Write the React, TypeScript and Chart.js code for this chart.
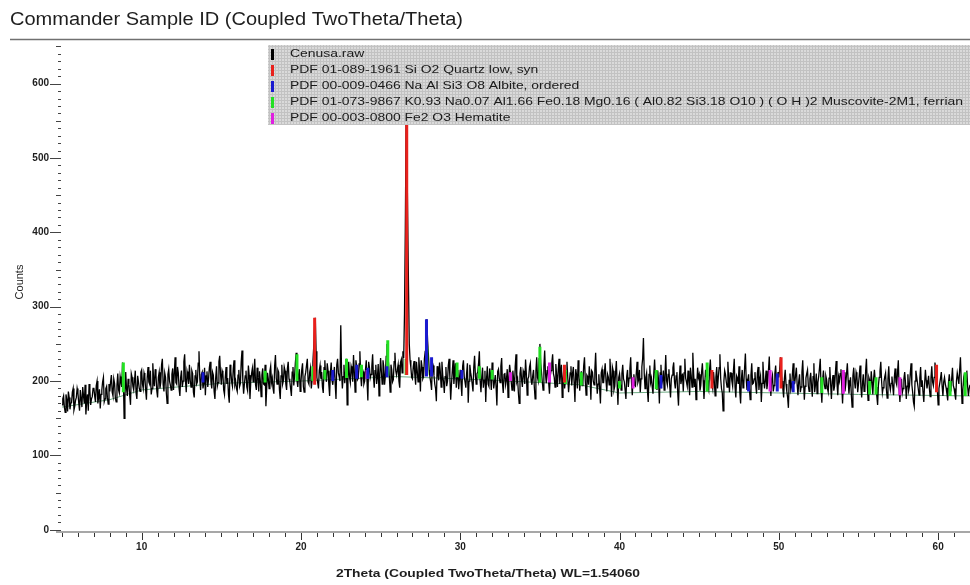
import React, { useEffect, useRef } from "react";
import { Chart, registerables } from "chart.js";

Chart.register(...registerables);

const TITLE = "Commander Sample ID (Coupled TwoTheta/Theta)";
const X_TITLE = "2Theta (Coupled TwoTheta/Theta) WL=1.54060";
const Y_TITLE = "Counts";
const X_TICKS = [10, 20, 30, 40, 50, 60];
const Y_TICKS = [0, 100, 200, 300, 400, 500, 600];

const SERIES_LABELS = [
  "Cenusa.raw",
  "PDF 01-089-1961 Si O2 Quartz low, syn",
  "PDF 00-009-0466 Na Al Si3 O8 Albite, ordered",
  "PDF 01-073-9867 K0.93 Na0.07 Al1.66 Fe0.18 Mg0.16 ( Al0.82 Si3.18 O10 ) ( O H )2 Muscovite-2M1, ferrian",
  "PDF 00-003-0800 Fe2 O3 Hematite",
];
const SERIES_COLORS = ["#000000", "#e8201c", "#1a1ad0", "#22e022", "#e020e0"];

// raw scan counts at 2theta = 5.0, 5.1, ... 62.0
const RAW_START = 5;
const RAW_STEP = 0.1;
const rawCounts = [
  168,180,158,175,186,162,171,190,166,178,
  184,160,176,192,170,155,182,196,168,179,
  191,172,200,178,163,188,205,176,193,169,
  186,208,180,197,172,210,184,199,225,150,
  212,180,196,168,205,188,214,176,199,186,
  215,190,206,175,219,196,182,224,193,208,
  178,212,198,230,186,205,170,216,195,209,
  188,232,196,211,180,214,200,236,185,207,
  222,192,210,178,215,199,240,188,212,197,
  181,213,203,226,190,208,176,220,198,234,
  195,210,182,219,204,171,213,193,228,200,
  186,215,197,241,183,207,192,221,176,210,
  199,230,188,205,213,179,217,195,166,211,
  190,220,204,183,235,196,212,176,222,201,
  214,188,226,199,180,219,207,238,192,216,
  198,224,185,212,230,196,218,201,245,285,
  205,190,221,212,184,228,199,214,180,225,
  195,219,176,230,206,275,190,222,211,168,
  226,198,215,235,185,219,204,240,193,213,
  200,228,174,218,209,236,191,222,205,180,
  231,196,219,207,250,224,185,215,202,238,
  208,222,191,229,240,290,548,420,250,218,
  203,227,195,214,232,186,219,206,240,283,
  236,205,188,221,196,173,210,225,192,208,
  184,219,200,230,175,213,196,224,206,189,
  215,180,228,199,210,171,222,205,186,234,
  196,212,240,185,218,201,172,220,193,209,
  225,190,208,167,216,198,231,184,211,202,
  178,222,199,214,186,236,203,170,219,192,
  210,229,181,206,224,195,215,176,232,200,
  250,212,188,241,197,220,183,214,236,205,
  223,192,230,210,178,216,200,226,185,211,
  194,219,172,208,228,187,213,199,232,181,
  206,220,175,212,195,238,183,209,170,216,
  198,224,186,205,230,179,214,193,227,168,
  210,188,222,199,176,215,204,232,181,209,
  193,226,202,185,219,258,190,211,172,221,
  204,183,229,196,214,170,222,201,188,235,
  195,216,178,208,225,190,212,167,221,203,
  186,230,199,214,181,207,238,192,175,218,
  209,194,224,176,215,201,188,229,197,212,
  180,219,205,236,190,160,214,199,226,185,
  211,193,230,178,204,220,170,215,196,237,
  188,209,175,224,197,212,183,219,201,172,
  226,190,214,198,233,180,208,194,221,187,
  205,232,200,178,215,186,164,210,193,224,
  197,218,181,209,192,228,175,204,215,186,
  211,179,224,195,183,206,230,171,214,190,
  202,185,219,176,208,193,227,181,200,216,
  170,212,195,224,183,205,165,218,190,207,
  196,221,178,209,187,230,174,201,213,182,
  215,192,168,205,226,184,199,211,177,220,
  188,206,181,217,195,228,172,203,190,212,
  176,209,193,224,185,166,214,198,181,219,
  201,172,215,190,207,179,220,194,225,205,
  168,197,212,180,205,191,174,209,186,218,
  190,175,211,196,232,170,203,187,214,180,
  195,
];

// raw scan counts at the in-between steps 2theta = 5.05, 5.15, ... 61.95
const rawCountsMid = [
  176,165,182,159,178,170,185,161,174,190,
  171,188,165,180,195,173,160,187,176,190,
  180,194,170,189,182,199,172,190,178,196,
  199,185,203,177,194,188,206,192,205,178,
  190,203,181,210,193,200,184,207,190,212,
  196,211,188,205,199,214,190,203,216,187,
  205,190,222,195,211,184,209,200,188,217,
  210,198,219,190,205,192,226,201,213,196,
  201,214,185,207,196,224,203,209,190,218,
  207,192,218,199,212,186,205,193,226,210,
  214,188,205,196,182,222,199,216,195,190,
  208,193,226,201,196,214,187,208,199,217,
  212,195,218,186,200,208,196,222,190,203,
  213,198,190,221,204,215,188,207,196,219,
  196,217,203,190,212,194,225,201,208,186,
  215,193,206,221,199,212,190,226,270,240,
  198,214,203,192,218,206,224,195,212,201,
  208,196,222,211,200,212,206,197,230,204,
  205,220,199,212,228,202,223,208,217,196,
  215,199,226,204,220,207,214,196,223,210,
  212,228,195,233,235,206,222,199,226,214,
  215,200,225,211,231,400,510,330,228,205,
  219,208,226,199,214,228,203,230,265,255,
  215,198,225,208,190,220,201,212,226,199,
  206,193,221,204,196,228,210,191,215,203,
  197,220,206,191,224,200,212,196,219,208,
  210,224,200,205,191,214,203,196,217,188,
  206,199,192,213,204,220,197,209,195,216,
  205,212,188,203,220,199,184,210,202,214,
  196,210,203,219,201,207,192,214,205,230,
  225,199,220,210,214,198,207,225,210,192,
  208,215,196,222,203,190,212,204,199,220,
  210,197,216,190,209,202,194,221,200,208,
  195,207,214,200,216,204,196,190,211,198,
  212,200,209,195,206,219,188,211,195,205,
  197,210,203,188,206,192,217,199,204,194,
  210,198,215,203,230,210,205,187,209,198,
  192,210,205,188,200,211,196,214,207,201,
  209,194,203,218,199,207,185,202,196,210,
  211,204,193,200,218,192,210,203,196,205,
  187,212,201,196,207,193,215,203,190,199,
  205,190,218,203,184,200,209,192,205,211,
  200,214,192,207,196,185,203,191,218,203,
  201,190,208,196,203,194,210,188,207,197,
  204,200,189,215,198,203,186,210,199,212,
  215,220,190,203,196,178,201,188,209,196,
  208,195,200,185,212,198,193,210,194,203,
  194,206,185,210,198,217,190,202,196,207,
  190,204,196,200,187,211,197,206,210,193,
  198,186,210,201,196,182,207,199,212,185,
  208,192,197,186,214,196,205,188,199,203,
  201,180,194,213,200,191,206,189,203,195,
  197,193,205,199,212,189,195,184,203,198,
  193,187,210,195,172,200,206,190,204,192,
  185,196,201,197,190,204,199,205,215,188,
  190,204,193,199,196,183,198,195,203,194,
  183,200,204,215,200,188,195,200,193,190,
];

// fitted background
const bgTheta = [5, 8, 10, 15, 20, 26, 30, 35, 37.5, 40, 45, 50, 55, 62];
const bgCounts = [165, 175, 188, 197, 200, 206, 203, 198, 195, 184, 186, 184, 182, 180];

// phase sticks (position, top, base)
const quartzPos = [20.86, 26.64, 36.54, 45.8, 50.14, 59.9];
const quartzTop = [285, 550, 222, 215, 232, 222];
const quartzBase = [195, 208, 198, 190, 190, 185];

const albitePos = [13.85, 22.0, 23.5, 24.2, 25.4, 27.88, 28.2, 30.1, 42.6, 48.1, 49.9, 50.9];
const albiteTop = [212, 215, 222, 218, 220, 283, 232, 215, 208, 200, 210, 200];
const albiteBase = [198, 200, 203, 203, 205, 206, 206, 203, 190, 186, 186, 185];

const muscovitePos = [8.85, 17.75, 19.75, 20.75, 21.5, 22.86, 23.8, 25.45, 26.6, 27.9, 29.8, 31.2, 32.0, 35.0, 36.6, 37.6, 40.0, 42.3, 45.5, 52.7, 55.7, 56.1, 60.75, 61.7];
const muscoviteTop = [225, 214, 236, 220, 215, 230, 222, 255, 230, 245, 225, 220, 215, 246, 215, 212, 200, 215, 225, 205, 200, 205, 200, 212];
const muscoviteBase = [185, 198, 200, 200, 202, 204, 205, 207, 208, 208, 205, 203, 202, 198, 196, 194, 190, 189, 186, 184, 182, 182, 180, 180];

const hematitePos = [24.15, 33.15, 35.6, 40.85, 49.45, 54.05, 57.6];
const hematiteTop = [215, 212, 225, 205, 215, 215, 205];
const hematiteBase = [203, 200, 198, 190, 186, 183, 181];

const FONT = "'Liberation Sans', Arial, sans-serif";

function sticks(pos: number[], top: number[], base: number[]) {
  const out: any[] = [];
  pos.forEach((p, i) => {
    out.push({ x: p, y: base[i] }, { x: p, y: top[i] }, { x: p, y: null });
  });
  return out;
}

function fitText(ctx: CanvasRenderingContext2D, text: string, x: number, y: number, width: number, font: string, color: string, align: "left" | "center" = "left") {
  ctx.save();
  ctx.font = font;
  const w = ctx.measureText(text).width;
  const s = width / w;
  ctx.translate(align === "center" ? x - width / 2 : x, y);
  ctx.scale(s, 1);
  ctx.fillStyle = color;
  ctx.textAlign = "left";
  ctx.textBaseline = "middle";
  ctx.fillText(text, 0, 0);
  ctx.restore();
}

const decorPlugin = {
  id: "decor",
  afterDraw(chart: any) {
    const { ctx, chartArea: a, scales } = chart;
    const xs = scales.x;
    const ys = scales.y;
    ctx.save();

    // title + rule
    fitText(ctx, TITLE, 10, 20, 453, `18px ${FONT}`, "#1e1e1e");
    ctx.strokeStyle = "#707070";
    ctx.lineWidth = 1.5;
    ctx.beginPath();
    ctx.moveTo(10, 39.5);
    ctx.lineTo(970, 39.5);
    ctx.stroke();

    // x axis
    ctx.strokeStyle = "#8a8a8a";
    ctx.lineWidth = 1.5;
    ctx.beginPath();
    ctx.moveTo(56, a.bottom);
    ctx.lineTo(a.right, a.bottom);
    ctx.stroke();
    ctx.strokeStyle = "#333";
    ctx.lineWidth = 1;
    for (let t = 5; t <= 62; t++) {
      const px = Math.round(xs.getPixelForValue(t)) + 0.5;
      const len = t % 10 === 0 ? 7 : 4;
      ctx.beginPath();
      ctx.moveTo(px, a.bottom + 1);
      ctx.lineTo(px, a.bottom + 1 + len);
      ctx.stroke();
    }
    ctx.fillStyle = "#1e1e1e";
    ctx.font = `bold 10px ${FONT}`;
    ctx.textAlign = "center";
    ctx.textBaseline = "middle";
    X_TICKS.forEach((t) => ctx.fillText(String(t), xs.getPixelForValue(t), 547));
    fitText(ctx, X_TITLE, 488, 574, 304, `bold 11px ${FONT}`, "#1e1e1e", "center");

    // y axis ticks
    ctx.strokeStyle = "#444";
    ctx.lineWidth = 1;
    for (let v = 0; v <= 650; v += 10) {
      const py = Math.round(ys.getPixelForValue(v)) + 0.5;
      const x0 = v % 100 === 0 ? 50 : v % 50 === 0 ? 56 : 58;
      ctx.beginPath();
      ctx.moveTo(x0, py);
      ctx.lineTo(61, py);
      ctx.stroke();
    }
    ctx.fillStyle = "#1e1e1e";
    ctx.font = `bold 10px ${FONT}`;
    ctx.textAlign = "right";
    Y_TICKS.forEach((v) => ctx.fillText(String(v), 49, ys.getPixelForValue(v)));

    ctx.save();
    ctx.translate(20, 282);
    ctx.rotate(-Math.PI / 2);
    ctx.font = `11px ${FONT}`;
    ctx.textAlign = "center";
    ctx.fillText(Y_TITLE, 0, 0);
    ctx.restore();

    // legend box
    const lx = 268, ly = 45, lw = 970 - 268, lh = 80;
    ctx.fillStyle = "#dadada";
    ctx.fillRect(lx, ly, lw, lh);
    ctx.strokeStyle = "#c2c2c2";
    ctx.lineWidth = 1;
    ctx.beginPath();
    for (let gx = lx + 1; gx < lx + lw; gx += 3) {
      ctx.moveTo(gx + 0.5, ly);
      ctx.lineTo(gx + 0.5, ly + lh);
    }
    for (let gy = ly + 1; gy < ly + lh; gy += 3) {
      ctx.moveTo(lx, gy + 0.5);
      ctx.lineTo(lx + lw, gy + 0.5);
    }
    ctx.stroke();

    ctx.font = `11px ${FONT}`;
    const longest = Math.max(...SERIES_LABELS.map((s) => ctx.measureText(s).width));
    const sc = 673 / longest;
    SERIES_LABELS.forEach((label, i) => {
      const ry = 54 + i * 16;
      ctx.fillStyle = SERIES_COLORS[i];
      ctx.fillRect(271, ry - 5, 3, 11);
      ctx.save();
      ctx.translate(290, ry);
      ctx.scale(sc, 1);
      ctx.fillStyle = "#1a1a1a";
      ctx.textAlign = "left";
      ctx.textBaseline = "middle";
      ctx.fillText(label, 0, 0);
      ctx.restore();
    });

    ctx.restore();
  },
};

export default function App() {
  const ref = useRef<HTMLCanvasElement>(null);
  useEffect(() => {
    if (!ref.current) return;
    const raw: { x: number; y: number }[] = [];
    rawCounts.forEach((c, i) => {
      raw.push({ x: RAW_START + i * RAW_STEP, y: c });
      if (i < rawCountsMid.length) raw.push({ x: RAW_START + (i + 0.5) * RAW_STEP, y: rawCountsMid[i] });
    });
    const bg = bgTheta.map((t, i) => ({ x: t, y: bgCounts[i] }));
    const stickDs = (label: string, color: string, data: any[]) => ({
      label,
      data,
      borderColor: color,
      backgroundColor: color,
      borderWidth: 3,
      borderCapStyle: "butt",
      spanGaps: false,
      pointRadius: 0,
      order: 1,
    });
    const chart = new Chart(ref.current, {
      type: "line",
      data: {
        datasets: [
          {
            label: SERIES_LABELS[0],
            data: raw,
            borderColor: "#000000",
            borderWidth: 1.3,
            pointRadius: 0,
            tension: 0,
            order: 3,
          },
          {
            label: "background",
            data: bg,
            borderColor: "#6aa880",
            borderWidth: 1,
            pointRadius: 0,
            order: 4,
          },
          stickDs(SERIES_LABELS[1], SERIES_COLORS[1], sticks(quartzPos, quartzTop, quartzBase)),
          stickDs(SERIES_LABELS[2], SERIES_COLORS[2], sticks(albitePos, albiteTop, albiteBase)),
          stickDs(SERIES_LABELS[3], SERIES_COLORS[3], sticks(muscovitePos, muscoviteTop, muscoviteBase)),
          stickDs(SERIES_LABELS[4], SERIES_COLORS[4], sticks(hematitePos, hematiteTop, hematiteBase)),
        ] as any,
      },
      options: {
        responsive: false,
        animation: false,
        layout: { padding: { left: 62, right: 0, top: 42, bottom: 53 } },
        scales: {
          x: { type: "linear", min: 5, max: 62, display: false },
          y: { min: -3, max: 656, display: false },
        },
        plugins: { legend: { display: false }, title: { display: false }, tooltip: { enabled: false } },
        elements: { point: { radius: 0 }, line: { tension: 0 } },
      } as any,
      plugins: [decorPlugin],
    });
    return () => chart.destroy();
  }, []);
  return (
    <div style={{ position: "fixed", left: 0, top: 0, width: 970, height: 585, background: "#fff" }}>
      <canvas ref={ref} width={970} height={585} style={{ display: "block" }} />
    </div>
  );
}
